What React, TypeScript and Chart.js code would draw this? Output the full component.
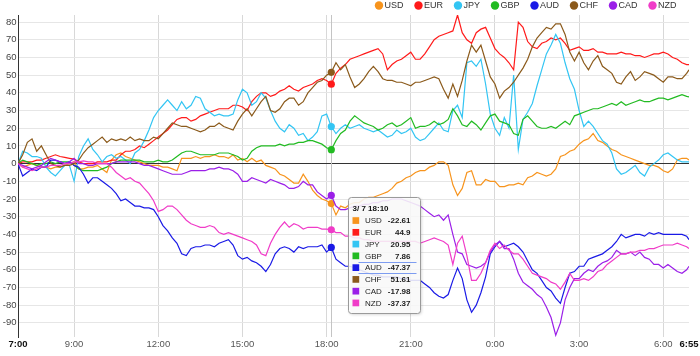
import React, { useEffect, useRef } from 'react';
import { Chart, registerables } from 'chart.js';

Chart.register(...registerables);

const FONT = "'Liberation Sans', Arial, Helvetica, sans-serif";

const SERIES_NAMES = ['USD', 'EUR', 'JPY', 'GBP', 'AUD', 'CHF', 'CAD', 'NZD'];
const SERIES_COLORS = ['#F7941D', '#FF1A1A', '#33C5F3', '#22BB22', '#1A1AE6', '#8B5A1B', '#9B1FE8', '#F03CC8'];

// values every 10 minutes from 7:00, last point at 6:55
const USD = [
  0, -2, -1, 0, -1, -2, -2, -3, -2, -2,
  -1, 0, 1, -3, -3, -2, -2, -1, -3, -5,
  2, 5, 6, 4, 3, 2, 1, 0, -1, -1,
  -1, -2, -2, -3, -4, 3, 3, 3, 4, 3,
  4, 4, 5, 4, 4, 3, 5, 2, 3, 1,
  3, 1, 2, -1, -2, -3, -6, -7, -9, -11,
  -11, -6, -10, -15, -18, -20, -21, -22.61, -29, -24,
  -25, -23, -22, -22, -20, -19, -19, -18, -17, -16,
  -14, -11, -10, -8, -7, -5, -4, -4, -2, -1,
  1, 1, -1, -12, -18, -14, -5, -4, -12, -12,
  -9, -10, -10, -13, -13, -12, -12, -11, -12, -8,
  -7, -5, -6, -7, -6, -3, 4, 5, 7, 8,
  11, 13, 14, 17, 13, 12, 10, 8, 7, 5,
  4, 3, 2, 1, 0, -1, -1, -2, -4, -5,
  -3, 2, 3, 3, 2,
];
const EUR = [
  0, 1, 1, 1, 2, 2, 3, 4, 5, 4,
  3.5, 3, 2.5, 1, 0, 0, 0, 1, 1, 1,
  2, 2, 5, 7, 7, 8, 10, 9, 11, 13,
  15, 17, 19, 22, 25, 26, 26, 24, 25, 27,
  28, 29, 30, 31, 31, 31, 33, 33, 32, 30,
  35, 38, 40, 40, 38, 39, 41, 42, 44, 42,
  41, 43, 44, 45, 47, 48, 47, 44.9, 51, 54,
  56, 59, 60, 61, 62, 63, 64, 65, 62, 53,
  56, 58, 59, 61, 63, 59, 59, 62, 66, 70,
  72, 73, 74, 75, 84, 74, 70, 68, 74, 76,
  77, 71, 65, 62, 60, 57, 53, 80, 77, 69,
  66, 65, 68, 69, 71, 70, 71, 68, 64, 65,
  66, 64, 64, 65, 63, 63, 62, 62, 62, 63,
  62, 62, 61, 61, 60, 61, 62, 62, 63, 62,
  60, 59, 57, 56, 56,
];
const JPY = [
  0, 7, 6, 4, 4, 3, -2, -5, -7, -4,
  -1, -1, -10, 4, 10, 14, 8, 5, 1, 4,
  5, 3, 4, 2, 0, 6, 8, 13, 19, 26,
  30, 33, 36, 33, 30, 35, 31, 33, 38, 37,
  31, 29, 27, 28, 27, 27, 28, 36, 42, 40,
  33, 35, 40, 37, 30, 24, 20, 18, 22, 20,
  16, 17, 13, 15, 18, 27, 28, 20.95, 17, 20,
  22, 20, 21, 22, 20, 19, 18, 19, 17, 15,
  16, 19, 17, 18, 20, 15, 13, 14, 17, 20,
  23, 19, 18, 30, 33, 26, 57, 58, 55, 59,
  45, 28, 20, 16, 26, 20, 50, 8, 25, 29,
  34, 44, 53, 62, 67, 73, 68, 57, 48, 42,
  30, 21, 24, 21, 17, 13, 11, 6, -3, -6,
  -5, -3, -1, -5, -7, -2, 0, 2, 5, 6,
  4, 2, 1, 1, 1,
];
const GBP = [
  0, 2, 1, 0, -1, 0, 0, 1, 0, 1,
  1, 1, -1, -3, -4, -4, -4, -4, -3, -2,
  0, 1, 2, 2, 2, 2, 2, 1, 1, 1,
  2, 1, 1, 2, 4, 6, 7, 7, 6, 5,
  5, 5, 5, 6, 6, 6, 5, 4, 2, 3,
  7, 9, 10, 10, 10, 10, 11, 10, 11, 11,
  12, 12, 13, 13, 12, 11, 9, 7.86, 13, 17,
  19, 24, 27, 25, 23, 22, 21, 19, 20, 22,
  23, 21, 22, 24, 26, 20, 21, 21, 22, 24,
  22, 23, 25, 31, 27, 22, 21, 24, 22, 19,
  23, 27, 28, 24, 23, 22, 17, 16, 25, 27,
  24, 21, 20, 20, 21, 20, 22, 24, 22, 27,
  28, 29, 30, 31, 31, 32, 33, 34, 33, 35,
  33, 34, 35, 36, 35, 35, 36, 37, 37, 36,
  37, 38, 39, 38, 37.7,
];
const AUD = [
  0, -7, -5, -3, -4, -2, -2, 2, 2, 1,
  0, 1, -1, -2, -6, -11, -8, -8, -10, -12,
  -14, -17, -21, -20, -22, -24, -24, -25, -25, -26,
  -30, -35, -38, -42, -45, -51, -52, -48, -47, -47,
  -46, -46, -47, -45, -44, -43, -46, -52, -54, -53,
  -55, -56, -58, -61, -57, -51, -48, -47, -48, -50,
  -47, -48, -47, -47, -47, -46, -50, -47.37, -54, -56,
  -58, -58, -59, -60, -61, -62, -63, -63, -64, -64,
  -64, -64, -65, -65, -66, -66, -66, -68, -70, -73,
  -75, -76, -74, -66, -59, -65, -77, -84, -80, -73,
  -64, -51, -47, -44, -47, -46, -45, -47, -50, -55,
  -60, -62, -66, -70, -72, -76, -79, -70, -62, -61,
  -58, -58, -54, -53, -52, -51, -49, -47, -44, -40,
  -42, -41, -40, -40, -41, -39, -40, -39, -40, -40,
  -40, -40, -40, -41, -43,
];
const CHF = [
  0, 5, 12, 14, 7, 10, 5, 0, -1, -2,
  -1, -1, 0, 2, 6, 9, 11, 13, 15, 12,
  14, 13, 14, 13, 15, 13, 14, 13, 13, 15,
  14, 17, 20, 23, 22, 21, 21, 20, 19, 18,
  19, 21, 21, 23, 21, 20, 19, 24, 28, 31,
  27, 31, 35, 38, 30, 29, 31, 35, 37, 37,
  33, 35, 40, 43, 46, 47, 50, 51.61, 57, 53,
  56, 49, 43, 45, 48, 52, 55, 52, 48, 47,
  47, 46, 46, 45, 44, 46, 46, 47, 48, 49,
  48, 42, 37, 45, 38, 47, 58, 67, 63, 67,
  58, 49, 45, 37, 41, 43, 46, 50, 54, 59,
  66, 71, 74, 77, 76, 79, 79, 73, 63, 58,
  63, 57, 53, 58, 61, 55, 53, 51, 46, 45,
  49, 52, 47, 49, 52, 51, 50, 48, 46, 49,
  49, 48, 48, 51, 53,
];
const CAD = [
  0, -1, -2, -3, -2, -1, 1, 3, 2, 1,
  0, 1, 3, 0, 0, -1, -1, 0, 0, 0,
  0, 1, 1, 1, 1, 1, 0, -1, -1, -2,
  -3, -4, -5, -6, -6, -6, -5, -4, -4, -4,
  -4, -3, -3, -2, -3, -3, -4, -6, -10, -10,
  -8, -9, -10, -11, -9, -10, -11, -12, -14, -14,
  -13, -10, -12, -12, -16, -18, -20, -17.98, -24, -26,
  -26, -25, -24, -24, -23, -23, -22, -22, -21, -21,
  -20, -20, -20, -21, -22, -23, -24, -26, -28, -30,
  -29, -32, -29, -40, -50, -51, -57, -58, -59, -58,
  -56, -50, -46, -44, -48, -48, -54, -62, -67, -69,
  -71, -74, -76, -81, -87, -97, -90, -77, -70, -65,
  -65, -62, -60, -61, -58, -56, -55, -53, -49, -51,
  -51, -50, -52, -50, -53, -54, -57, -57, -59, -57,
  -59, -61, -62, -60, -58,
];
const NZD = [
  0, -2, -3, -4, -3, -2, -2, -1, -1, -1,
  0, 0, 1, 1, 1.5, 1, 1, 0, 0, 0,
  -2, -5, -7, -9, -8, -10, -11, -14, -17, -21,
  -27, -26, -24, -24, -26, -29, -32, -34, -35, -36,
  -36, -35, -36, -39, -40, -39, -40, -41, -42, -43,
  -44, -46, -51, -52, -45, -40, -36, -33, -36, -34,
  -35, -37, -36, -36, -36, -37, -37, -37.37, -39, -39,
  -41, -41, -42, -42, -43, -43, -44, -44, -44, -44,
  -44, -44, -44, -44, -44, -44, -45, -44, -43, -42,
  -43, -44, -46, -57, -45, -41, -52, -66, -66, -62,
  -56, -49, -45, -48, -46, -49, -51, -51, -54, -58,
  -62, -63, -64, -65, -67, -68, -71, -67, -62, -66,
  -66, -65, -66, -64, -61, -60, -57, -55, -53, -51,
  -51, -50, -50, -49, -49, -48, -48, -47, -46, -46,
  -46, -45, -46, -47, -48,
];

const SERIES_VALUES = [USD, EUR, JPY, GBP, AUD, CHF, CAD, NZD];

const START_HOUR = 7;
const STEP_MINUTES = 10;
const LAST_MINUTE = 1435; // 6:55
const X_TICK_MINUTES = [0, 120, 300, 480, 660, 840, 1020, 1200, 1380, 1435];
const Y_TICK_VALUES = [-90, -80, -70, -60, -50, -40, -30, -20, -10, 0, 10, 20, 30, 40, 50, 60, 70, 80];
const Y_MIN = -98;
const Y_MAX = 84;

const HOVER_INDEX = 67; // 18:10
const HOVER_DATE = '3/ 7';
const HOVER_SERIES = 'AUD';

const TIMES = USD.map((_, i) => (i === USD.length - 1 ? LAST_MINUTE : i * STEP_MINUTES));

function formatMinute(m: number): string {
  const total = START_HOUR * 60 + m;
  const h = Math.floor(total / 60) % 24;
  const mm = total % 60;
  return `${h}:${mm < 10 ? '0' + mm : mm}`;
}

function roundRect(ctx: CanvasRenderingContext2D, x: number, y: number, w: number, h: number, r: number) {
  ctx.beginPath();
  ctx.moveTo(x + r, y);
  ctx.lineTo(x + w - r, y);
  ctx.arcTo(x + w, y, x + w, y + r, r);
  ctx.lineTo(x + w, y + h - r);
  ctx.arcTo(x + w, y + h, x + w - r, y + h, r);
  ctx.lineTo(x + r, y + h);
  ctx.arcTo(x, y + h, x, y + h - r, r);
  ctx.lineTo(x, y + r);
  ctx.arcTo(x, y, x + r, y, r);
  ctx.closePath();
}

const crosshairPlugin = {
  id: 'crosshair',
  beforeDatasetsDraw(chart: any) {
    const { ctx, chartArea, scales } = chart;
    const x = Math.round(scales.x.getPixelForValue(TIMES[HOVER_INDEX])) + 0.5;
    ctx.save();
    ctx.strokeStyle = '#c4c4c4';
    ctx.lineWidth = 1;
    ctx.beginPath();
    ctx.moveTo(x, chartArea.top);
    ctx.lineTo(x, chartArea.bottom);
    ctx.stroke();
    ctx.restore();
  },
};

const legendPlugin = {
  id: 'topLegend',
  afterDraw(chart: any) {
    const { ctx } = chart;
    ctx.save();
    ctx.font = `9px ${FONT}`;
    ctx.textBaseline = 'middle';
    const gapText = 5.5;
    const gapItem = 15;
    const widths = SERIES_NAMES.map((n) => ctx.measureText(n).width);
    const total = widths.reduce((a, w) => a + gapText + w, 0) + gapItem * (SERIES_NAMES.length - 1);
    const rightEnd = 676.5;
    let c = rightEnd - total;
    const cy = 5.5;
    SERIES_NAMES.forEach((name, i) => {
      ctx.fillStyle = SERIES_COLORS[i];
      ctx.beginPath();
      ctx.arc(c, cy, 4.2, 0, Math.PI * 2);
      ctx.fill();
      ctx.fillStyle = '#333';
      ctx.textAlign = 'left';
      ctx.fillText(name, c + gapText, cy + 0.5);
      c = c + gapText + widths[i] + gapItem;
    });
    ctx.restore();
  },
};

const tooltipPlugin = {
  id: 'fixedTooltip',
  afterDraw(chart: any) {
    const { ctx, scales } = chart;
    const px = scales.x.getPixelForValue(TIMES[HOVER_INDEX]);
    const bx = Math.round(px + 17) + 0.5;
    const by = 197.5;
    const bw = 72;
    const bh = 116;
    ctx.save();
    ctx.shadowColor = 'rgba(0,0,0,0.22)';
    ctx.shadowBlur = 3;
    ctx.shadowOffsetX = 1;
    ctx.shadowOffsetY = 1;
    roundRect(ctx, bx, by, bw, bh, 3);
    ctx.fillStyle = 'rgba(255,255,255,0.86)';
    ctx.fill();
    ctx.shadowColor = 'transparent';
    ctx.strokeStyle = '#9a9a9a';
    ctx.lineWidth = 1;
    ctx.stroke();

    ctx.textBaseline = 'middle';
    ctx.textAlign = 'left';
    ctx.fillStyle = '#111';
    ctx.font = `bold 8px ${FONT}`;
    ctx.fillText(`${HOVER_DATE} ${formatMinute(TIMES[HOVER_INDEX])}`, bx + 4, by + 11);

    const rowH = 11.77;
    SERIES_NAMES.forEach((name, i) => {
      const ry = by + 23 + i * rowH;
      ctx.fillStyle = SERIES_COLORS[i];
      ctx.fillRect(bx + 4, ry - 3.3, 6.7, 6.7);
      ctx.fillStyle = '#222';
      ctx.textAlign = 'left';
      ctx.font = `8px ${FONT}`;
      ctx.fillText(name, bx + 16.5, ry + 0.5);
      ctx.textAlign = 'right';
      ctx.font = `bold 8px ${FONT}`;
      ctx.fillText(String(SERIES_VALUES[i][HOVER_INDEX]), bx + 62, ry + 0.5);
      if (name === HOVER_SERIES) {
        ctx.strokeStyle = '#7d9cf0';
        ctx.lineWidth = 1;
        ctx.beginPath();
        ctx.moveTo(bx + 10, Math.round(ry - 6) + 0.5);
        ctx.lineTo(bx + 68, Math.round(ry - 6) + 0.5);
        ctx.moveTo(bx + 10, Math.round(ry + 5.3) + 0.5);
        ctx.lineTo(bx + 68, Math.round(ry + 5.3) + 0.5);
        ctx.stroke();
      }
    });
    ctx.restore();
  },
};

export default function App() {
  const ref = useRef<HTMLCanvasElement>(null);

  useEffect(() => {
    document.body.style.margin = '0';
    const canvas = ref.current;
    if (!canvas) return;

    const datasets = SERIES_NAMES.map((name, si) => ({
      label: name,
      data: SERIES_VALUES[si].map((v, i) => ({ x: TIMES[i], y: v })),
      borderColor: SERIES_COLORS[si],
      backgroundColor: SERIES_COLORS[si],
      borderWidth: 1.2,
      tension: 0,
      fill: false,
      order: SERIES_NAMES.length - si,
      pointRadius: (c: any) => (c.dataIndex === HOVER_INDEX ? 3.6 : 0),
      pointHoverRadius: 0,
      pointBorderWidth: 0,
      pointBackgroundColor: SERIES_COLORS[si],
    }));

    const chart = new Chart(canvas, {
      type: 'line',
      data: { datasets },
      options: {
        animation: false,
        responsive: false,
        devicePixelRatio: 1,
        events: [],
        layout: { padding: { top: 15, right: 8, left: 0, bottom: 0 } },
        plugins: {
          legend: { display: false },
          tooltip: { enabled: false },
          title: { display: false },
        },
        scales: {
          x: {
            type: 'linear',
            min: 0,
            max: LAST_MINUTE,
            afterFit: (s: any) => {
              s.height = 19;
            },
            afterBuildTicks: (s: any) => {
              s.ticks = X_TICK_MINUTES.map((v) => ({ value: v }));
            },
            border: { display: false },
            grid: {
              drawTicks: false,
              color: (c: any) =>
                c.index === 0 || c.index === X_TICK_MINUTES.length - 1 ? 'rgba(0,0,0,0)' : '#d8d8d8',
            },
            ticks: {
              autoSkip: false,
              maxRotation: 0,
              padding: 1.5,
              callback: (v: any) => formatMinute(Number(v)),
              color: (c: any) => (c.index === 0 || c.index === X_TICK_MINUTES.length - 1 ? '#111' : '#555'),
              font: (c: any) => ({
                family: FONT,
                size: 9.5,
                weight: c.index === 0 || c.index === X_TICK_MINUTES.length - 1 ? 'bold' : 'normal',
              }),
            },
          },
          y: {
            type: 'linear',
            min: Y_MIN,
            max: Y_MAX,
            afterFit: (s: any) => {
              s.width = 18;
            },
            afterBuildTicks: (s: any) => {
              s.ticks = Y_TICK_VALUES.map((v) => ({ value: v }));
            },
            border: { display: true, color: '#333', width: 1 },
            grid: {
              drawTicks: false,
              color: (c: any) => (c.tick && c.tick.value === 0 ? '#333' : '#e6e6e6'),
            },
            ticks: {
              padding: 1.5,
              color: '#444',
              font: { family: FONT, size: 9.5 },
            },
          },
        },
      },
      plugins: [crosshairPlugin, legendPlugin, tooltipPlugin],
    } as any);

    return () => chart.destroy();
  }, []);

  return (
    <div style={{ position: 'absolute', left: 0, top: 0, width: 700, height: 356, background: '#fff' }}>
      <canvas ref={ref} width={700} height={356} style={{ display: 'block', width: 700, height: 356 }} />
    </div>
  );
}
